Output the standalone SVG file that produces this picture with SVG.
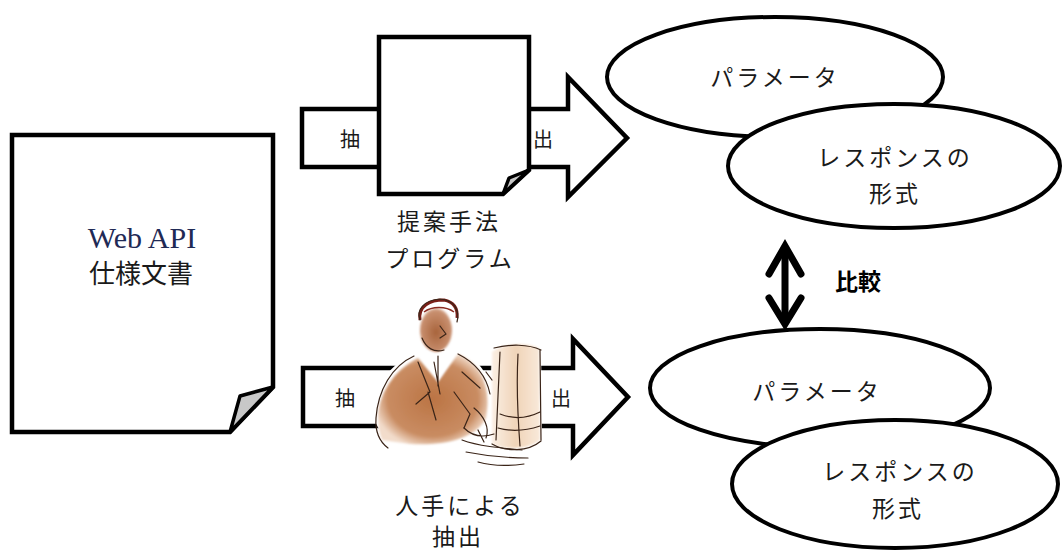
<svg xmlns="http://www.w3.org/2000/svg" width="1062" height="553" viewBox="0 0 1062 553">
  <style>
    .shape { fill: #ffffff; stroke: #000000; stroke-width: 4.5; stroke-linejoin: miter; }
    .ell { fill: #ffffff; stroke: #000000; stroke-width: 4; }
    .fold { fill: #c8c8c8; stroke: #000000; stroke-width: 3.5; stroke-linejoin: round; }
    .jp { font-family: "Noto Sans CJK JP", "Noto Sans", sans-serif; font-size: 23px; fill: #1a1a1a; letter-spacing: 3px; }
    .lbl { font-family: "Noto Sans CJK JP", "Noto Sans", sans-serif; font-size: 20px; fill: #1a1a1a; }
    .sketch { fill: none; stroke: #3a2418; stroke-width: 1.2; stroke-linecap: round; stroke-linejoin: round; }
  </style>
  <defs>
    <radialGradient id="suit" cx="0.5" cy="0.5" r="0.55">
      <stop offset="0" stop-color="#bb7444"/>
      <stop offset="0.75" stop-color="#c98c62"/>
      <stop offset="1" stop-color="#f2dccb"/>
    </radialGradient>
    <linearGradient id="screen" x1="0" y1="0" x2="1" y2="0">
      <stop offset="0" stop-color="#fbefe4"/>
      <stop offset="0.5" stop-color="#f0d4b8"/>
      <stop offset="1" stop-color="#f9e9da"/>
    </linearGradient>
    <radialGradient id="face" cx="0.5" cy="0.55" r="0.6">
      <stop offset="0" stop-color="#a8643c"/>
      <stop offset="0.8" stop-color="#c99070"/>
      <stop offset="1" stop-color="#f3e2d6"/>
    </radialGradient>
    <filter id="soft" x="-20%" y="-20%" width="140%" height="140%">
      <feGaussianBlur stdDeviation="1.2"/>
    </filter>
  </defs>

  <rect width="1062" height="553" fill="#ffffff"/>

  <!-- Web API specification document -->
  <g id="spec-doc">
    <path class="shape" d="M12,135 L273,135 L273,387 L230,432 L12,432 Z" stroke-linejoin="round"/>
    <path class="fold" d="M230,432 L240,396 L273,387 Z"/>
    <text x="142" y="248" text-anchor="middle" font-family="Liberation Serif, serif" font-size="30" fill="#1f2a55">Web API</text>
    <text x="141" y="283" text-anchor="middle" font-family="Noto Sans CJK JP, sans-serif" font-size="26" fill="#1a1a1a">仕様文書</text>
  </g>

  <!-- Connectors: extraction arrows and comparison arrow -->
  <g id="connectors">
    <path id="arrow-top" class="shape" d="M302,109 L568,109 L568,77 L627,138 L568,197 L568,167 L302,167 Z"/>
    <path id="arrow-bottom" class="shape" d="M303,368 L573,368 L573,339 L628,397 L573,455 L573,426 L303,426 Z"/>
    <g id="compare-arrow" stroke="#000000" stroke-width="7" fill="none" stroke-linecap="round" stroke-linejoin="miter">
      <line x1="785" y1="248" x2="785" y2="322"/>
      <path d="M769,274 L785,246 L801,274"/>
      <path d="M769,298 L785,324 L801,298"/>
    </g>
  </g>

  <!-- Arrow labels -->
  <g id="arrow-labels">
    <text class="lbl" x="350" y="138" text-anchor="middle" dominant-baseline="central">抽</text>
    <text class="lbl" x="543" y="138" text-anchor="middle" dominant-baseline="central">出</text>
    <text class="lbl" x="345" y="397" text-anchor="middle" dominant-baseline="central">抽</text>
    <text class="lbl" x="561" y="397" text-anchor="middle" dominant-baseline="central">出</text>
    <text x="858" y="280" text-anchor="middle" dominant-baseline="central" font-family="Noto Sans CJK JP, sans-serif" font-size="23" font-weight="bold" fill="#000000">比較</text>
  </g>

  <!-- Proposed-method program document -->
  <g id="program-doc">
    <path class="shape" d="M379,37 L529,37 L529,170 L503,194 L379,194 Z" stroke-linejoin="round"/>
    <path class="fold" d="M503,194 L509,178 L529,170 Z" stroke-width="3"/>
    <text class="jp" x="449" y="220" text-anchor="middle" dominant-baseline="central">提案手法</text>
    <text class="jp" x="450" y="257" text-anchor="middle" dominant-baseline="central">プログラム</text>
  </g>

  <!-- Manual extraction: person working at a computer -->
  <g id="manual-worker">
    <!-- white silhouette under the drawing -->
    <path d="M374,420 C370,392 386,366 414,354 L420,340 C416,318 424,302 440,302 C454,302 460,316 456,340 L460,352 C482,360 492,380 490,400 L492,350 C505,342 528,340 541,346 L542,440 C536,448 528,452 520,452 L528,464 C510,468 478,466 462,458 L452,446 C430,450 400,446 384,438 Z" fill="#ffffff"/>
    <g filter="url(#soft)">
      <!-- suit -->
      <path d="M382,440 C370,410 386,374 418,358 L438,382 L458,354 C480,362 492,386 486,418 C476,440 440,446 410,444 Z" fill="url(#suit)"/>
      <!-- monitor -->
      <path d="M492,352 C502,344 526,342 539,348 L540,440 C528,450 502,450 492,444 Z" fill="url(#screen)"/>
      <!-- face -->
      <ellipse cx="436" cy="330" rx="16" ry="22" fill="url(#face)"/>
      <!-- shirt collar -->
      <path d="M428,352 L438,380 L454,350 L446,356 L438,372 L433,354 Z" fill="#ffffff"/>
    </g>
    <!-- hair -->
    <path d="M420,320 C418,306 430,300 444,300 C454,302 458,308 457,318" fill="none" stroke="#7a1f18" stroke-width="3"/>
    <path d="M424,312 C432,306 446,306 454,312" fill="none" stroke="#8b2a20" stroke-width="1.5"/>
    <!-- sketch lines -->
    <path class="sketch" d="M420,320 C416,310 424,300 440,299 C454,300 460,310 457,322"/>
    <path class="sketch" d="M422,338 C426,348 434,353 444,350 M440,326 L446,334 L440,338"/>
    <path class="sketch" d="M438,356 L438,386 M434,362 L440,394"/>
    <path class="sketch" d="M414,356 C392,366 378,390 376,418 C375,432 380,442 388,448"/>
    <path class="sketch" d="M418,362 L430,392 L416,404 M428,392 L436,420"/>
    <path class="sketch" d="M458,354 C474,362 486,374 490,394"/>
    <path class="sketch" d="M454,392 L470,414 L464,428 M474,408 C484,416 490,428 486,438"/>
    <path class="sketch" d="M494,348 C510,344 528,344 541,350 M500,352 L496,440 M518,354 C516,390 518,420 520,446 M540,350 L541,440"/>
    <path class="sketch" d="M492,444 C506,452 528,452 541,441 M500,414 C515,420 528,418 540,412 M498,428 C512,432 528,430 540,426"/>
    <path class="sketch" d="M462,440 C478,446 500,448 522,450 M466,452 C486,456 506,458 528,458 M478,462 C492,466 510,466 524,464"/>
    <path class="sketch" d="M464,428 C472,436 482,438 494,434 M478,430 L484,442"/>
    <path class="sketch" d="M462,372 L480,388 M486,372 L492,380"/>
    <text class="jp" x="460" y="504" text-anchor="middle" dominant-baseline="central">人手による</text>
    <text class="jp" x="458" y="535" text-anchor="middle" dominant-baseline="central">抽出</text>
  </g>

  <!-- Results from the proposed method -->
  <g id="params-top">
    <ellipse class="ell" cx="775" cy="77" rx="168" ry="60"/>
    <text class="jp" x="775" y="76" text-anchor="middle" dominant-baseline="central">パラメータ</text>
  </g>
  <g id="format-top">
    <ellipse class="ell" cx="894" cy="166" rx="166" ry="62"/>
    <text class="jp" x="895" y="156" text-anchor="middle" dominant-baseline="central">レスポンスの</text>
    <text class="jp" x="895" y="192" text-anchor="middle" dominant-baseline="central">形式</text>
  </g>

  <!-- Results from manual extraction -->
  <g id="params-bottom">
    <ellipse class="ell" cx="820" cy="388" rx="170" ry="59"/>
    <text class="jp" x="817" y="390" text-anchor="middle" dominant-baseline="central">パラメータ</text>
  </g>
  <g id="format-bottom">
    <ellipse class="ell" cx="895" cy="484" rx="163" ry="64"/>
    <text class="jp" x="900" y="470" text-anchor="middle" dominant-baseline="central">レスポンスの</text>
    <text class="jp" x="898" y="507" text-anchor="middle" dominant-baseline="central">形式</text>
  </g>
</svg>
